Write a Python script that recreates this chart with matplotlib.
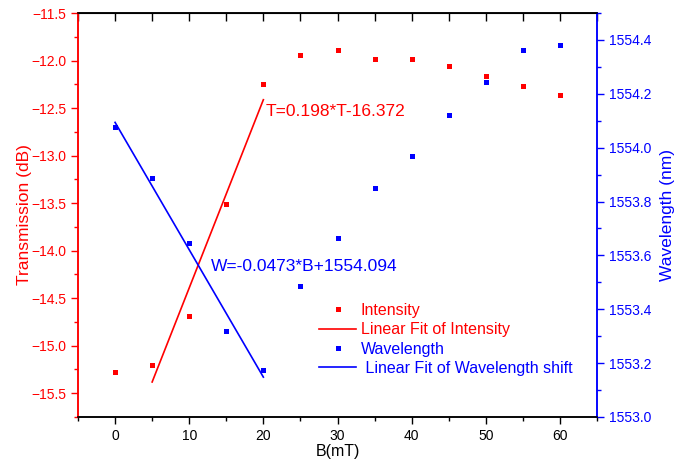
import numpy as np
import matplotlib.pyplot as plt
from matplotlib.ticker import MultipleLocator
from matplotlib.lines import Line2D

plt.rcParams['font.family'] = ['Liberation Sans', 'DejaVu Sans']

# magnetic field (mT)
B = [0, 5, 10, 15, 20, 25, 30, 35, 40, 45, 50, 55, 60]
# transmission intensity (dB)
intensity = [-15.276, -15.198, -14.686, -13.514, -12.247, -11.942, -11.886,
             -11.988, -11.984, -12.061, -12.163, -12.265, -12.363]
# resonance wavelength (nm)
wavelength = [1554.076, 1553.886, 1553.645, 1553.319, 1553.173, 1553.487, 1553.666,
              1553.851, 1553.968, 1554.122, 1554.245, 1554.364, 1554.382]

# linear fits: slope, intercept, fit range
fit_T = (0.198, -16.372, [5, 20])
fit_W = (-0.0473, 1554.094, [0, 20])

red = '#ff0000'
blue = '#0000ff'

fig = plt.figure(figsize=(6.86, 4.66), dpi=100)
ax = fig.add_axes([0.1137, 0.1052, 0.7566, 0.8668])
ax2 = ax.twinx()

ax.plot(B, intensity, 's', color=red, ms=3.6, mew=0)
bt = np.array(fit_T[2])
ax.plot(bt, fit_T[0] * bt + fit_T[1], color=red, lw=1.2)

ax2.plot(B, wavelength, 's', color=blue, ms=3.6, mew=0)
bw = np.array(fit_W[2])
ax2.plot(bw, fit_W[0] * bw + fit_W[1], color=blue, lw=1.2)

ax.set_xlim(-5, 65)
ax.set_ylim(-15.75, -11.5)
ax2.set_ylim(1553.0, 1554.5)

ax.xaxis.set_major_locator(MultipleLocator(10))
ax.xaxis.set_minor_locator(MultipleLocator(5))
ax.yaxis.set_major_locator(MultipleLocator(0.5))
ax.yaxis.set_minor_locator(MultipleLocator(0.25))
ax2.yaxis.set_major_locator(MultipleLocator(0.2))
ax2.yaxis.set_minor_locator(MultipleLocator(0.1))
ax.yaxis.set_major_formatter('{x:.1f}')
ax2.yaxis.set_major_formatter('{x:.1f}')

ax.tick_params(axis='x', which='major', direction='out', length=5, width=1, labelsize=10)
ax.tick_params(axis='x', which='minor', direction='out', length=3, width=1)
ax.tick_params(axis='y', which='major', direction='out', length=5, width=1,
               colors=red, labelsize=10)
ax.tick_params(axis='y', which='minor', direction='out', length=3, width=1, colors=red)
ax2.tick_params(axis='y', which='major', direction='out', length=5, width=1,
                colors=blue, labelsize=10)
ax2.tick_params(axis='y', which='minor', direction='out', length=3, width=1, colors=blue)

top = ax.secondary_xaxis('top')
top.xaxis.set_major_locator(MultipleLocator(5))
top.tick_params(direction='in', length=6, width=1, labeltop=False)

for a in (ax, ax2):
    a.spines['left'].set_color(red)
    a.spines['right'].set_color(blue)
    a.spines['top'].set_color('black')
    a.spines['bottom'].set_color('black')
    for s in a.spines.values():
        s.set_linewidth(1.1)

ax.set_xlabel('B(mT)', fontsize=11.5, labelpad=1)
ax.set_ylabel('Transmission (dB)', color=red, fontsize=12.5, labelpad=-1)
ax2.set_ylabel('Wavelength (nm)', color=blue, fontsize=12.5, labelpad=6)

ax.text(20.3, -12.54, 'T=0.198*T-16.372', color=red, fontsize=12.5, va='center')
ax.text(12.9, -14.17, 'W=-0.0473*B+1554.094', color=blue, fontsize=12.5, va='center')

handles = [
    Line2D([], [], ls='none', marker='s', color=red, ms=3.6, mew=0),
    Line2D([], [], color=red, lw=1.2),
    Line2D([], [], ls='none', marker='s', color=blue, ms=3.6, mew=0),
    Line2D([], [], color=blue, lw=1.2),
]
labels = ['Intensity', 'Linear Fit of Intensity', 'Wavelength', ' Linear Fit of Wavelength shift']
leg = ax2.legend(handles, labels, loc='upper left', bbox_to_anchor=(0.465, 0.283),
                 frameon=False, fontsize=11.5, handlelength=2.3, handletextpad=0.3,
                 labelspacing=0.28, borderpad=0, borderaxespad=0)
for t, c in zip(leg.get_texts(), [red, red, blue, blue]):
    t.set_color(c)

fig.savefig('out.png', dpi=100)
